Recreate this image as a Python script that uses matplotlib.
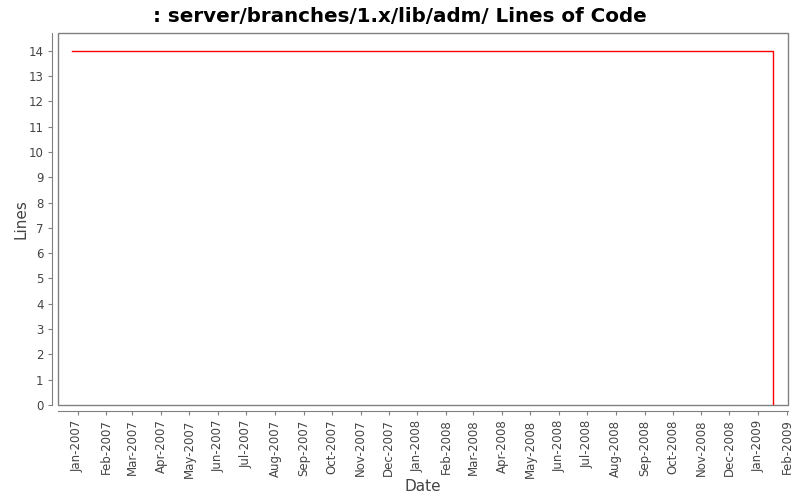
import numpy as np
import pandas as pd
import matplotlib
matplotlib.use("Agg")
import matplotlib.pyplot as plt
import matplotlib.dates as mdates
from matplotlib.patches import Rectangle

# data
dates = pd.to_datetime(["2006-12-26", "2009-01-17"])
lines = [14, 0]
x_min = pd.Timestamp("2006-12-11")
x_max = pd.Timestamp("2009-02-02")
y_max = 14.7

fig = plt.figure(figsize=(8, 5), dpi=100)
ax = fig.add_axes([0.0725, 0.19, 0.9125, 0.744])

ax.plot(dates, lines, drawstyle="steps-post", color="#ff0000", linewidth=1.0)

ax.set_xlim(x_min, x_max)
ax.set_ylim(0, y_max)
ax.set_yticks(range(0, 15))

ax.xaxis.set_major_locator(mdates.MonthLocator())
ax.xaxis.set_major_formatter(mdates.DateFormatter("%b-%Y"))

# plot box + offset axis lines, JFreeChart style
ax.add_patch(Rectangle((0, 0), 1, 1, transform=ax.transAxes, fill=False,
                       edgecolor="#808080", linewidth=1.0, clip_on=False))
for side in ["top", "right"]:
    ax.spines[side].set_visible(False)
for side in ["left", "bottom"]:
    ax.spines[side].set_position(("outward", 4))
    ax.spines[side].set_color("#808080")
ax.tick_params(axis="both", colors="#808080", labelcolor="#444444",
               labelsize=8.5, length=3, width=0.8)
ax.tick_params(axis="x", labelrotation=90)

ax.set_xlabel("Date", fontsize=11, color="#444444", labelpad=1)
ax.set_ylabel("Lines", fontsize=11, color="#444444", labelpad=0)
fig.suptitle(": server/branches/1.x/lib/adm/ Lines of Code", fontsize=14.3,
             fontweight="bold", y=0.985)

fig.savefig("out.png", dpi=100)
